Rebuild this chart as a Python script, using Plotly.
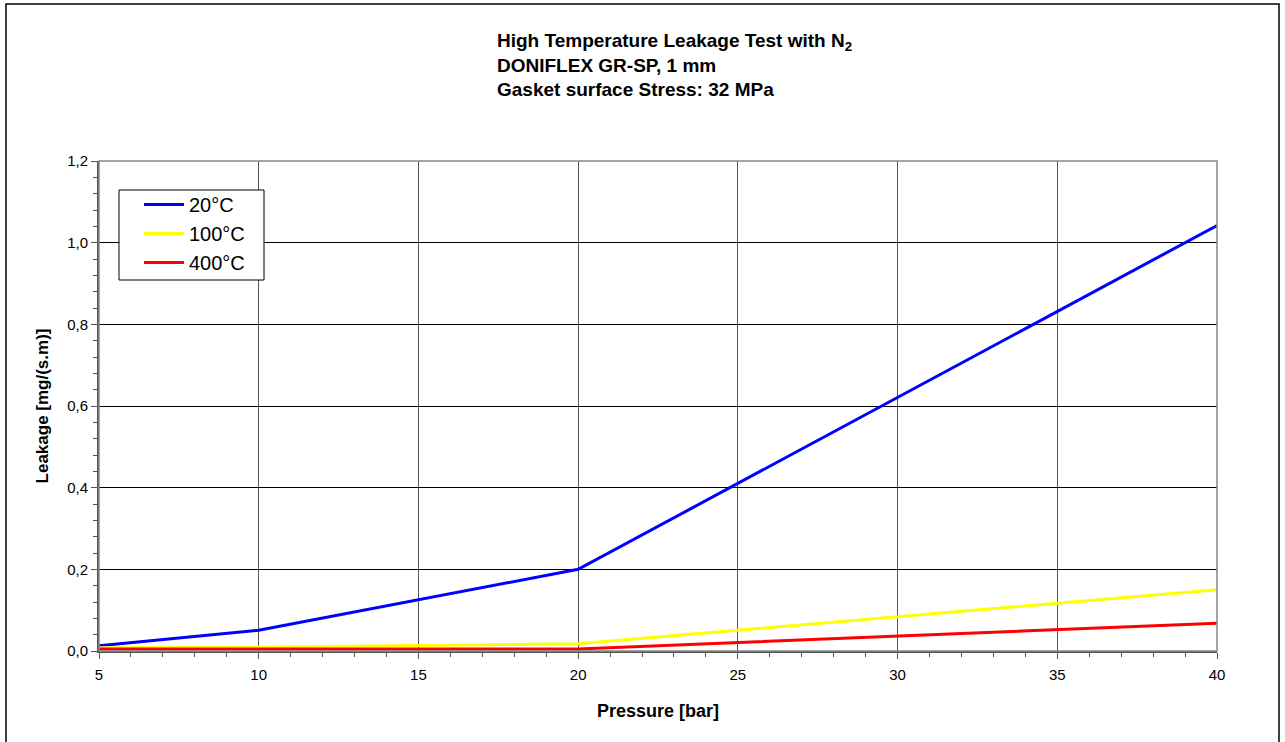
import plotly.graph_objects as go

pressure = [5, 10, 20, 40]
leak_20 = [0.013, 0.051, 0.200, 1.042]
leak_100 = [0.008, 0.009, 0.018, 0.150]
leak_400 = [0.005, 0.005, 0.005, 0.068]

series = [("20°C", leak_20, "#0000FF"), ("100°C", leak_100, "#FFFF00"), ("400°C", leak_400, "#FF0000")]

fig = go.Figure()
for name, vals, col in series:
    fig.add_trace(go.Scatter(x=pressure, y=vals, mode="lines", name=name,
                             line=dict(color=col, width=3)))

W, H = 1285, 742
L, R, T, B = 99, 1217, 161, 651
pw, ph = R - L, B - T

def px(x):
    return (x - L) / pw

def py(y):
    return (B - y) / ph

FONT = "Liberation Sans, Arial, sans-serif"

fig.update_layout(
    width=W, height=H,
    margin=dict(l=L, r=W - R, t=T, b=H - B),
    paper_bgcolor="white", plot_bgcolor="white",
    separators=", ",
    font=dict(family=FONT, color="black", size=15),
    showlegend=True,
    legend=dict(x=px(139), y=py(185), xanchor="left", yanchor="top",
                borderwidth=0, bgcolor="rgba(0,0,0,0)",
                font=dict(size=20), tracegroupgap=0, itemwidth=40),
    annotations=[dict(
        text="<b>High Temperature Leakage Test with N<sub>2</sub><br>DONIFLEX GR-SP, 1 mm<br>Gasket surface Stress: 32 MPa</b>",
        xref="paper", yref="paper", x=px(495), y=py(28), xanchor="left", yanchor="top",
        align="left", showarrow=False, font=dict(size=19))],
    shapes=[
        dict(type="rect", xref="paper", yref="paper", x0=0, x1=1, y0=0, y1=1,
             line=dict(color="#888888", width=1.5), layer="above"),
        dict(type="rect", xref="paper", yref="paper", x0=px(6), x1=px(1279), y0=py(760), y1=py(4),
             line=dict(color="black", width=1.5)),
        dict(type="rect", xref="paper", yref="paper", x0=px(119), x1=px(264), y0=py(280), y1=py(190),
             line=dict(color="black", width=1), fillcolor="white", layer="above"),
    ],
)

fig.update_xaxes(
    range=[5, 40], tickmode="linear", tick0=5, dtick=5,
    showgrid=True, gridcolor="#555555", gridwidth=1,
    showline=True, linecolor="#555555", linewidth=2,
    ticks="outside", ticklen=6, tickcolor="#555555", ticklabelstandoff=3,
    minor=dict(dtick=1, tick0=5, ticks="outside", ticklen=4, tickcolor="#555555", showgrid=False),
    zeroline=False,
    title=dict(text="<b>Pressure [bar]</b>", font=dict(size=18), standoff=22),
)
fig.update_yaxes(
    range=[0, 1.2], tickmode="linear", tick0=0, dtick=0.2, tickformat=".1f",
    showgrid=True, gridcolor="black", gridwidth=1,
    showline=True, linecolor="#555555", linewidth=2,
    ticks="outside", ticklen=6, tickcolor="#555555",
    minor=dict(dtick=0.04, tick0=0, ticks="outside", ticklen=4, tickcolor="#555555", showgrid=False),
    zeroline=False,
    title=dict(text="<b>Leakage [mg/(s.m)]</b>", font=dict(size=17), standoff=14),
)

fig.write_html("out.html", config={"displayModeBar": False},
               post_script="document.body.style.margin='0';")
